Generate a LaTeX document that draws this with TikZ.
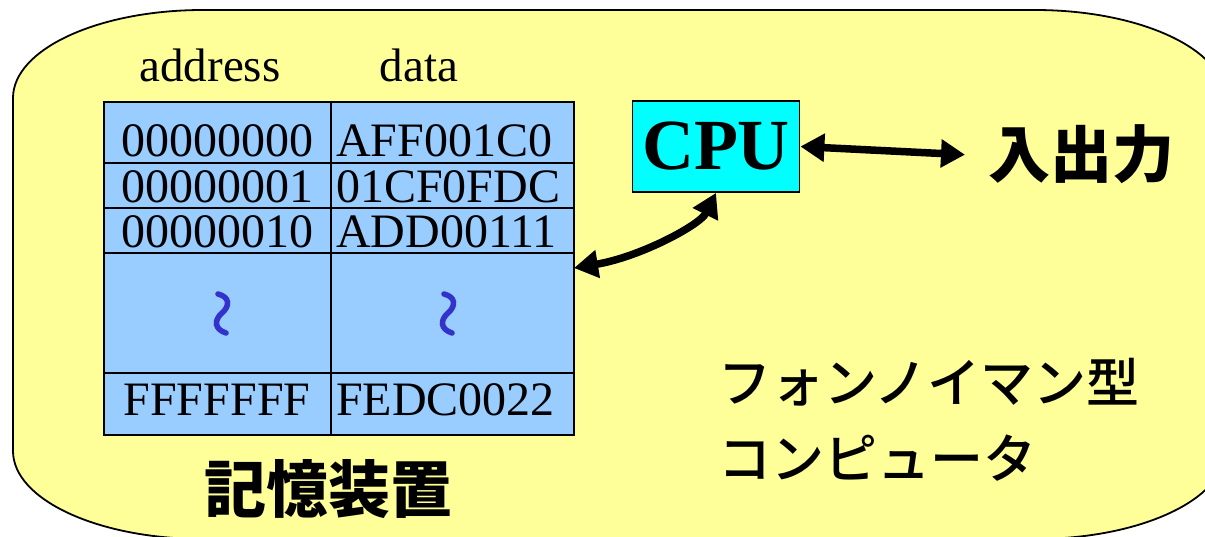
\documentclass[tikz,border=0pt]{standalone}
\usepackage{fontspec}
\setmainfont{Liberation Serif}
\newfontfamily\jpfont{Noto Sans CJK JP}
\newfontfamily\jpmedium{Noto Sans CJK JP Medium}
\usetikzlibrary{arrows.meta}

\definecolor{panel}{RGB}{255,255,153}
\definecolor{cellblue}{RGB}{153,204,255}
\definecolor{cpucyan}{RGB}{0,255,255}
\definecolor{skipblue}{RGB}{51,51,204}

\begin{document}
\begin{tikzpicture}[x=1pt,y=-1pt,
  outline/.style={draw=black,line width=1.8pt},
  tabtext/.style={inner sep=0pt,font=\fontsize{48}{50}\selectfont},
  headtext/.style={inner sep=0pt,font=\fontsize{47}{50}\selectfont},
  jplabel/.style={inner sep=0pt,font=\jpmedium\fontsize{53}{60}\selectfont},
  jpbold/.style={inner sep=0pt,font=\jpfont\bfseries\fontsize{62}{70}\selectfont},
  biarrow/.style={line width=7.5pt,{Triangle[length=24pt,width=27pt]}-{Triangle[length=24pt,width=27pt]}},
  skip/.style={draw=skipblue,line width=5.5pt,line cap=round}
]
\useasboundingbox (0,0) rectangle (1205,537);

% yellow panel with elliptical corners
\def\kk{0.5523}
\filldraw[fill=panel,outline]
  (13,98) .. controls (13,{98-\kk*88}) and ({203-\kk*190},10) .. (203,10)
  -- (1035,10) .. controls ({1035+\kk*190},10) and (1225,{98-\kk*88}) .. (1225,98)
  -- (1225,451) .. controls (1225,{451+\kk*88}) and ({1035+\kk*190},539) .. (1035,539)
  -- (203,539) .. controls ({203-\kk*190},539) and (13,{451+\kk*88}) .. (13,451)
  -- cycle;

% memory table
\node[outline,fill=cellblue,minimum width=470pt,minimum height=333pt,
      anchor=north west,inner sep=0pt] (mem) at (103,101) {};
\draw[outline] (331,101) -- (331,434);
\draw[outline] (103,163) -- (573,163);
\draw[outline] (103,208) -- (573,208);
\draw[outline] (103,253) -- (573,253);
\draw[outline] (103,373) -- (573,373);

\node[headtext,anchor=base] (haddr) at (210,82) {address};
\node[headtext,anchor=base] (hdata) at (419,82) {data};

\node[tabtext,anchor=base] (a0) at (217,157) {00000000};
\node[tabtext,anchor=base] (a1) at (217,203) {00000001};
\node[tabtext,anchor=base] (a2) at (217,248) {00000010};
\node[tabtext,anchor=base] (a3) at (217,415) {FFFFFFF};

\node[tabtext,anchor=base west] (d0) at (336,157) {AFF001C0};
\node[tabtext,anchor=base west] (d1) at (336,203) {01CF0FDC};
\node[tabtext,anchor=base west] (d2) at (336,248) {ADD00111};
\node[tabtext,anchor=base west] (d3) at (336,415) {FEDC0022};

% omitted rows
\draw[skip] (218,294) .. controls (230,297) and (230,306) .. (222,313)
            .. controls (214,320) and (214,329) .. (226,333);
\draw[skip] (444,294) .. controls (456,297) and (456,306) .. (448,313)
            .. controls (440,320) and (440,329) .. (452,333);

\node[jpbold,anchor=base] (memlabel) at (328,512) {記憶装置};

% processor
\node[outline,fill=cpucyan,minimum width=167pt,minimum height=91pt,inner sep=0pt,
      font=\bfseries\fontsize{72}{74}\selectfont] (cpu) at (716,146.5) {CPU};

\node[jpbold,anchor=base west] (io) at (988,178) {入出力};

\coordinate (memport) at (574,268);
\draw[biarrow] (cpu.east) -- ([xshift=-23pt]io.west);
\draw[biarrow] (memport) .. controls (640,257) and (700,225) .. (cpu.south);

\node[jplabel,anchor=base west] (title1) at (718,402) {フォンノイマン型};
\node[jplabel,anchor=base west] (title2) at (718,478) {コンピュータ};
\end{tikzpicture}
\end{document}
